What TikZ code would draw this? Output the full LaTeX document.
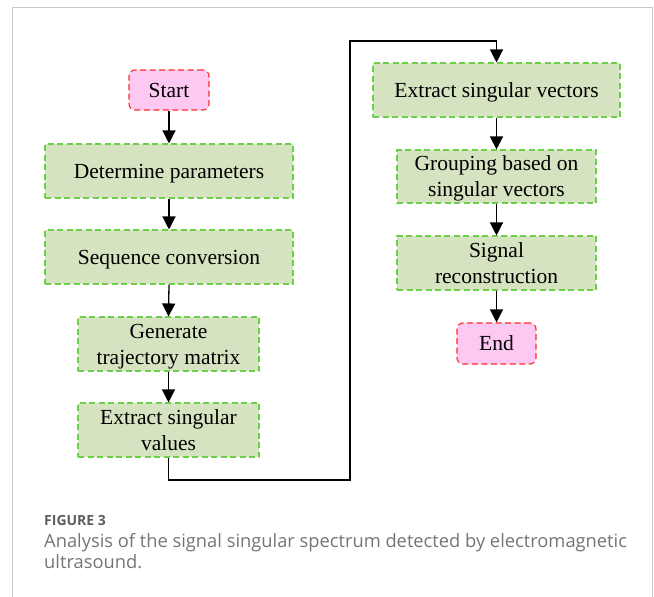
\documentclass[tikz,border=0pt]{standalone}
\usepackage{fontspec}
\setmainfont{Liberation Serif}
\newfontfamily\capfont{Open Sans}
\usetikzlibrary{arrows.meta}
\definecolor{boxgreen}{HTML}{D5E3C0}
\definecolor{dashgreen}{HTML}{6CCF4A}
\definecolor{boxpink}{HTML}{FDC8F1}
\definecolor{dashred}{HTML}{FF2A2A}
\definecolor{framegray}{HTML}{C8C8C8}
\definecolor{capgray}{HTML}{747474}
\definecolor{capdark}{HTML}{5E5E5E}
\tikzset{
  stepbox/.style={draw=dashgreen, fill=boxgreen, line width=1.1pt,
    dash pattern=on 6pt off 3.5pt, inner sep=0pt, align=center,
    text depth=0pt, font=\fontsize{21.5}{26}\selectfont},
  termbox/.style={draw=dashred, fill=boxpink, line width=1.1pt,
    dash pattern=on 6pt off 3.5pt, rounded corners=6pt, inner sep=0pt,
    align=center, text depth=0pt, font=\fontsize{21.5}{26}\selectfont},
  flow/.style={line width=1.3pt, -{Triangle[length=13pt,width=13pt]}},
  captext/.style={anchor=base west, inner sep=0pt, text=capgray,
    font=\capfont\fontsize{18.3}{22}\selectfont}
}
\begin{document}
\begin{tikzpicture}[x=1pt, y=-1pt]
\useasboundingbox (0,0) rectangle (654,597);
% frame
\draw[framegray, line width=1pt] (12,597) -- (12,7) -- (652,7) -- (652,597);

% left column
\node[termbox, minimum width=80pt, minimum height=40pt] (start) at (169,90) {Start};
\node[stepbox, minimum width=248pt, minimum height=54pt] (det) at (169,171) {Determine parameters};
\node[stepbox, minimum width=248pt, minimum height=54pt] (seq) at (169,257) {Sequence conversion};
\node[stepbox, minimum width=181pt, minimum height=54pt] (gen) at (168.5,344) {Generate\\trajectory matrix};
\node[stepbox, minimum width=181pt, minimum height=54pt] (esv) at (168.5,430) {Extract singular\\values};

% right column
\node[stepbox, minimum width=247pt, minimum height=54pt] (evec) at (496.5,90) {Extract singular vectors};
\node[stepbox, minimum width=199pt, minimum height=53pt] (grp) at (496.5,176.5) {Grouping based on\\singular vectors};
\node[stepbox, minimum width=199pt, minimum height=54pt] (rec) at (496.5,263) {Signal\\reconstruction};
\node[termbox, minimum width=79pt, minimum height=41pt] (end) at (496.5,343.5) {End};

% connectors
\draw[flow] (start.south) -- (det.north);
\draw[flow] (det.south) -- (seq.north);
\draw[flow] (seq.south) -- (gen.north);
\draw[flow] (gen.south) -- (esv.north);
\coordinate (c1) at (168.5,480);
\coordinate (c2) at (350,480);
\coordinate (c3) at (350,41);
\coordinate (c4) at (496.5,41);
\draw[flow] (esv.south) -- (c1) -- (c2) -- (c3) -- (c4) -- (evec.north);
\draw[flow] (evec.south) -- (grp.north);
\draw[flow] (grp.south) -- (rec.north);
\draw[flow] (rec.south) -- (end.north);

% caption
\node[anchor=base west, inner sep=0pt, text=capdark, font=\capfont\bfseries\fontsize{14}{16}\selectfont] (figlab) at (44,525) {FIGURE 3};
\node[captext] (cap1) at (44,547) {Analysis of the signal singular spectrum detected by electromagnetic};
\node[captext] (cap2) at (44,568) {ultrasound.};
\end{tikzpicture}
\end{document}
